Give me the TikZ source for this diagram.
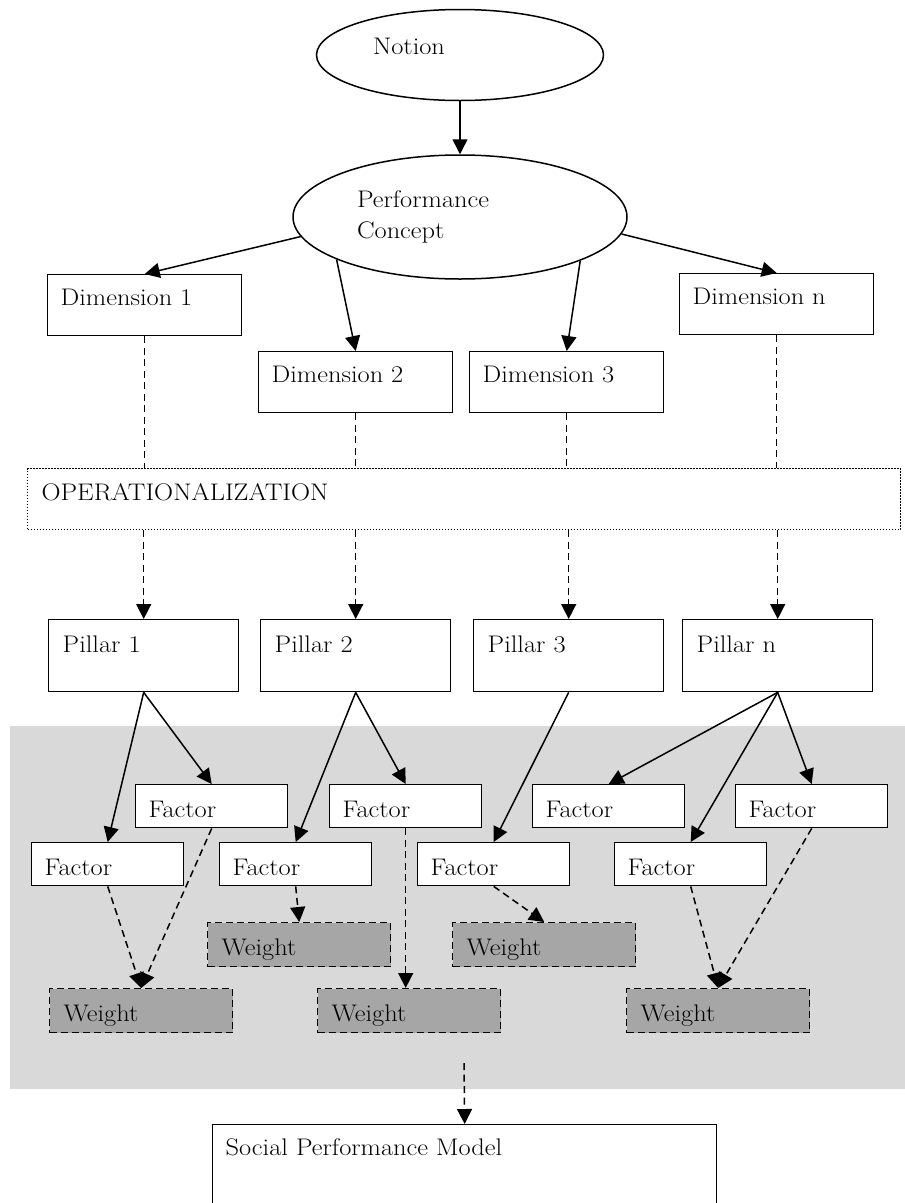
\documentclass[tikz,border=0pt]{standalone}
\usepackage{fontspec}
\setmainfont{Latin Modern Roman}[FakeStretch=1.1]
\usepackage{xcolor}
\usepackage{tikz}
\usetikzlibrary{positioning, arrows.meta, shapes.geometric}

\definecolor{bggray}{HTML}{D9D9D9}
\definecolor{wgray}{HTML}{A6A6A6}

\tikzset{
  txt/.style={font=\fontsize{24}{31}\selectfont},
  oval/.style={txt, draw, ellipse, line width=1.5pt, inner sep=0pt, align=left},
  box/.style={txt, draw, line width=1.4pt, fill=white, anchor=north west, align=left, inner ysep=0pt},
  dimbox/.style={box, inner xsep=13pt, text width=168pt, text height=31pt, text depth=30pt},
  pillarbox/.style={box, inner xsep=14pt, text width=162pt, text height=33pt, text depth=39pt},
  factorbox/.style={box, inner xsep=13pt, text width=126pt, text height=33pt, text depth=10pt},
  weightbox/.style={box, fill=wgray, dash pattern=on 7pt off 4pt, inner xsep=14pt, text width=155pt, text height=33pt, text depth=11pt},
  arr/.style={line width=1.5pt, -{Triangle[length=15pt,width=15pt]}},
  dline/.style={line width=1.5pt, dash pattern=on 7pt off 4.5pt},
  darr/.style={arr, dash pattern=on 7pt off 4.5pt},
}

\begin{document}
\begin{tikzpicture}[x=1pt, y=-1pt]
  \useasboundingbox (0,0) rectangle (905,1203);
  % shaded block behind factors and weights
  \fill[bggray] (10,726) rectangle (905,1089);

  % concepts
  \node[oval, minimum width=287pt, minimum height=91pt, text width=174pt, text height=16pt, text depth=18pt] (notion) at (460,55) {Notion};
  \node[oval, minimum width=334pt, minimum height=124pt, text width=206pt] (pc) at (460,217) {Performance\\Concept};

  % dimensions
  \node[dimbox] (dim1) at (47,274) {Dimension 1};
  \node[dimbox] (dim2) at (258,351) {Dimension 2};
  \node[dimbox] (dim3) at (469,351) {Dimension 3};
  \node[dimbox] (dimn) at (679,273) {Dimension n};

  \node[box, line width=1.2pt, dash pattern=on 1.2pt off 1.8pt, inner xsep=14pt, text width=845pt, text height=32pt, text depth=29pt] (op) at (27,468) {OPERATIONALIZATION};

  % pillars
  \node[pillarbox] (p1) at (48,619) {Pillar 1};
  \node[pillarbox] (p2) at (260,619) {Pillar 2};
  \node[pillarbox] (p3) at (473,619) {Pillar 3};
  \node[pillarbox] (pn) at (682,619) {Pillar n};

  % factors
  \node[factorbox] (f1a) at (135,784) {Factor};
  \node[factorbox] (f1b) at (31,842) {Factor};
  \node[factorbox] (f2a) at (329,784) {Factor};
  \node[factorbox] (f2b) at (219,842) {Factor};
  \node[factorbox] (f3) at (417,842) {Factor};
  \node[factorbox] (fna) at (532,784) {Factor};
  \node[factorbox] (fnb) at (614,842) {Factor};
  \node[factorbox] (fnc) at (735,784) {Factor};

  % weights
  \node[weightbox] (w1) at (49,988) {Weight};
  \node[weightbox] (w2) at (207,922) {Weight};
  \node[weightbox] (w3) at (317,988) {Weight};
  \node[weightbox] (w4) at (452,922) {Weight};
  \node[weightbox] (w5) at (626,988) {Weight};

  \node[box, inner xsep=13pt, text width=478pt, text height=31pt, text depth=64pt] (spm) at (212,1124) {Social Performance Model};
  \coordinate (gout) at (464,1063);

  % connectors
  \draw[arr] (notion.south) -- (pc.north);
  \draw[arr] (pc.187) -- (dim1.north);
  \draw[arr] (pc.199) -- (dim2.north);
  \draw[arr] (pc.340) -- (dim3.north);
  \draw[arr] (pc.354) -- (dimn.north);

  \foreach \d in {dim1,dim2,dim3,dimn}
    \draw[dline] (\d.south) -- (\d.south |- op.north);
  \foreach \p in {p1,p2,p3,pn}
    \draw[darr] (op.south -| \p.north) -- (\p.north);

  \draw[arr] (p1.south) -- (f1b.north);
  \draw[arr] (p1.south) -- (f1a.north);
  \draw[arr] (p2.south) -- (f2b.north);
  \draw[arr] (p2.south) -- (f2a.north);
  \draw[arr] (p3.south) -- (f3.north);
  \draw[arr] (pn.south) -- (fna.north);
  \draw[arr] (pn.south) -- (fnb.north);
  \draw[arr] (pn.south) -- (fnc.north);

  \draw[darr] (f1b.south) -- (w1.north);
  \draw[darr] (f1a.south) -- (w1.north);
  \draw[darr] (f2b.south) -- (w2.north);
  \draw[darr] (f2a.south) -- (f2a.south |- w3.north);
  \draw[darr] (f3.south) -- (w4.north);
  \draw[darr] (fnb.south) -- (w5.north);
  \draw[darr] (fnc.south) -- (w5.north);

  \draw[darr] (gout) -- (spm.north);
\end{tikzpicture}
\end{document}
